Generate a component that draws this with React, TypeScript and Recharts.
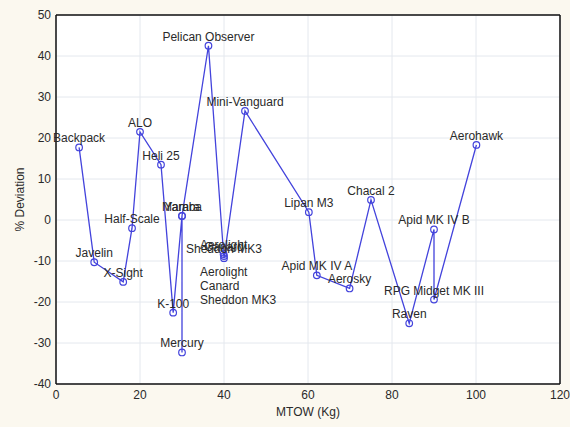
import React from 'react';
import {
  ScatterChart, Scatter, XAxis, YAxis, CartesianGrid, LabelList, ReferenceDot,
} from 'recharts';

const names = [
  'Backpack', 'Javelin', 'X-Sight', 'Half-Scale', 'ALO', 'Heli 25', 'K-100',
  'Yarara', 'Mercury', 'Mamba', 'Pelican Observer', 'Aerolight', 'Canard',
  'Sheddon MK3', 'Mini-Vanguard', 'Lipan M3', 'Apid MK IV A', 'Aerosky',
  'Chacal 2', 'Raven', 'Apid MK IV B', 'RPG Midget MK III', 'Aerohawk',
];
const mtow = [
  5.5, 9.1, 16.0, 18.1, 20.0, 25.0, 27.9,
  30.0, 30.0, 30.0, 36.3, 39.9, 40.0,
  40.0, 45.0, 60.2, 62.1, 69.9,
  75.0, 84.1, 90.0, 90.0, 100.1,
];
const deviation = [
  17.7, -10.3, -15.1, -2.0, 21.5, 13.5, -22.6,
  1.0, -32.3, 1.0, 42.5, -8.3, -8.8,
  -9.3, 26.6, 1.9, -13.5, -16.7,
  4.9, -25.2, -2.3, -19.4, 18.3,
];

const xMajorTicks = [0, 20, 40, 60, 80, 100, 120];
const yMajorTicks = [-40, -30, -20, -10, 0, 10, 20, 30, 40, 50];
const xMinorTicks = [0, 4, 8, 12, 16, 20, 24, 28, 32, 36, 40, 44, 48, 52, 56, 60, 64, 68, 72, 76, 80, 84, 88, 92, 96, 100, 104, 108, 112, 116, 120];
const yMinorTicks = [-40, -38, -36, -34, -32, -30, -28, -26, -24, -22, -20, -18, -16, -14, -12, -10, -8, -6, -4, -2, 0, 2, 4, 6, 8, 10, 12, 14, 16, 18, 20, 22, 24, 26, 28, 30, 32, 34, 36, 38, 40, 42, 44, 46, 48, 50];

const noteLines = ['Aerolight', 'Canard', 'Sheddon MK3'];
const noteX = 34.3;
const noteY = -12.7;

const data = names.map((name, i) => ({ name, x: mtow[i], y: deviation[i] }));

const BLUE = '#4343dc';
const TXT = '#2a2a2a';
const FONT = '"Liberation Sans", Arial, sans-serif';

const Marker = (props: any) => {
  const { cx, cy } = props;
  if (cx == null || cy == null) return null;
  return <circle cx={cx} cy={cy} r={3.3} fill="none" stroke={BLUE} strokeWidth={1.2} />;
};

const PointLabel = (props: any) => {
  const vb = props.viewBox || {};
  const x = (vb.x ?? props.x ?? 0) + (vb.width ?? props.width ?? 0) / 2;
  const cy = (vb.y ?? props.y ?? 0) + (vb.height ?? props.height ?? 0) / 2;
  return (
    <text x={x} y={cy - 5} textAnchor="middle" fill={TXT} fontSize={12} fontFamily={FONT}>
      {props.value}
    </text>
  );
};

const NoteLabel = (props: any) => {
  const vb = props.viewBox || {};
  const x = vb.x ?? 0;
  const y = vb.y ?? 0;
  return (
    <text x={x} y={y + 4} fill={TXT} fontSize={12} fontFamily={FONT}>
      {noteLines.map((t, i) => (
        <tspan key={t} x={x} dy={i === 0 ? 0 : 14}>{t}</tspan>
      ))}
    </text>
  );
};

export default function App() {
  return (
    <div style={{ position: 'absolute', left: 0, top: 0, width: 570, height: 427, background: '#fbf8ef' }}>
      <ScatterChart
        width={570}
        height={427}
        margin={{ top: 15, right: 10, bottom: 7, left: 0 }}
        style={{ fontFamily: FONT }}
      >
        <CartesianGrid fill="#ffffff" stroke="#e4e8ee" strokeWidth={1} />
        <XAxis
          type="number"
          dataKey="x"
          domain={[0, 120]}
          ticks={xMajorTicks}
          interval={0}
          tickLine={false}
          tickSize={6}
          tickMargin={0}
          axisLine={{ stroke: '#111', strokeWidth: 1.5 }}
          tick={{ fill: TXT, fontSize: 12 }}
          height={36}
          label={{ value: 'MTOW (Kg)', position: 'insideBottom', offset: 4, fill: TXT, fontSize: 12 }}
        />
        <YAxis
          type="number"
          dataKey="y"
          domain={[-40, 50]}
          ticks={yMajorTicks}
          interval={0}
          tickLine={false}
          tickSize={5}
          tickMargin={0}
          axisLine={{ stroke: '#111', strokeWidth: 1.5 }}
          tick={{ fill: TXT, fontSize: 12 }}
          width={56}
          label={{ value: '% Deviation', angle: -90, position: 'insideLeft', offset: 20, fill: TXT, fontSize: 12, style: { textAnchor: 'middle' } }}
        />
        <XAxis xAxisId="bm" type="number" orientation="bottom" mirror domain={[0, 120]} allowDataOverflow
          ticks={xMinorTicks} interval={0} tick={false} tickSize={3} tickLine={{ stroke: '#111' }} axisLine={false} />
        <XAxis xAxisId="tm" type="number" orientation="top" mirror domain={[0, 120]} allowDataOverflow
          ticks={xMinorTicks} interval={0} tick={false} tickSize={3} tickLine={{ stroke: '#111' }} axisLine={{ stroke: '#111', strokeWidth: 1.5 }} />
        <YAxis yAxisId="lm" type="number" orientation="left" mirror domain={[-40, 50]} allowDataOverflow
          ticks={yMinorTicks} interval={0} tick={false} tickSize={3} tickLine={{ stroke: '#111' }} axisLine={false} />
        <YAxis yAxisId="rm" type="number" orientation="right" mirror domain={[-40, 50]} allowDataOverflow
          ticks={yMinorTicks} interval={0} tick={false} tickSize={3} tickLine={{ stroke: '#111' }} axisLine={{ stroke: '#111', strokeWidth: 1.5 }} />
        <Scatter
          data={data}
          line={{ stroke: BLUE, strokeWidth: 1.3 }}
          lineType="joint"
          shape={<Marker />}
          isAnimationActive={false}
        >
          <LabelList dataKey="name" content={<PointLabel />} />
        </Scatter>
        <ReferenceDot x={noteX} y={noteY} r={0} fill="none" stroke="none" label={<NoteLabel />} />
      </ScatterChart>
    </div>
  );
}
